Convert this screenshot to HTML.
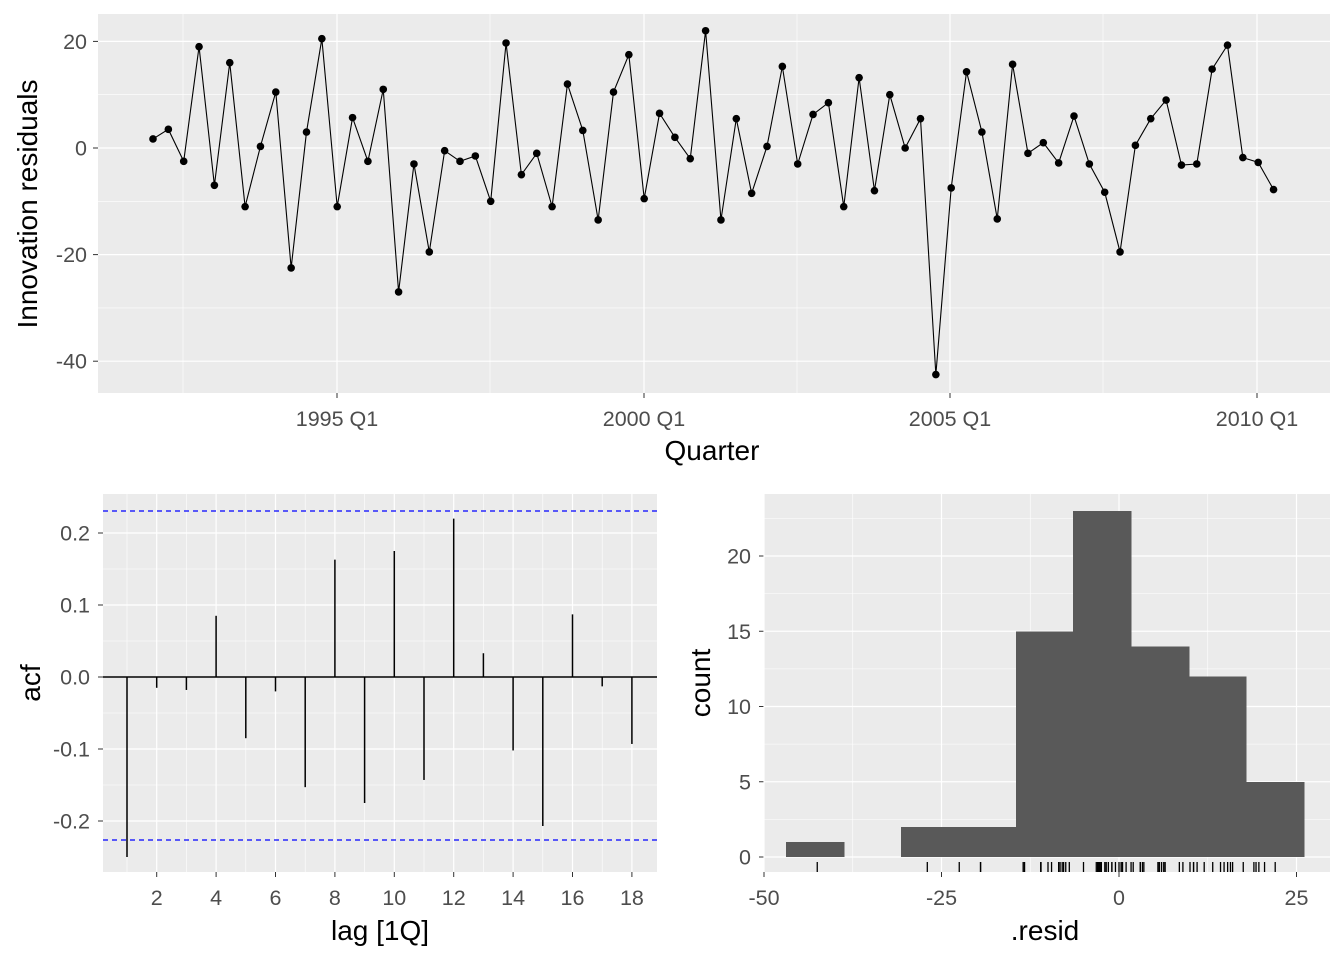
<!DOCTYPE html>
<html><head><meta charset="utf-8"><style>
body{margin:0;background:#fff}
svg{display:block;font-family:"Liberation Sans",Arial,sans-serif}
.t{font-size:21.5px;fill:#4d4d4d}
.ti{font-size:28px;fill:#000}
</style></head><body>
<svg id="s" width="1344" height="960" xmlns="http://www.w3.org/2000/svg"></svg>
<script>
const S=document.getElementById('s');let h='';
function L(x1,y1,x2,y2,c,w,extra){h+=`<line x1="${x1}" y1="${y1}" x2="${x2}" y2="${y2}" stroke="${c}" stroke-width="${w}" ${extra||''}/>`;}
function R(x,y,w,hh,c){h+=`<rect x="${x}" y="${y}" width="${w}" height="${hh}" fill="${c}" shape-rendering="crispEdges"/>`;}
function T(x,y,s,cl,a,extra){h+=`<text x="${x}" y="${y}" class="${cl}" text-anchor="${a||'middle'}" ${extra||''}>${s}</text>`;}
// top panel
const X0=98,X1=1330,Y0=14,Y1=393;
R(X0,Y0,X1-X0,Y1-Y0,'#ebebeb');
const yv=v=>148-5.33*v;
[-30,-10,10].forEach(v=>L(X0,yv(v),X1,yv(v),'#fff',0.6));
[183,490,797,1103].forEach(x=>L(x,Y0,x,Y1,'#fff',0.6));
[20,0,-20,-40].forEach(v=>{L(X0,yv(v),X1,yv(v),'#fff',1.2);L(93,yv(v),98,yv(v),'#333',1);T(87,yv(v)+7.5,v,'t','end');});
[[337,'1995 Q1'],[644,'2000 Q1'],[950,'2005 Q1'],[1257,'2010 Q1']].forEach(([x,s])=>{L(x,Y0,x,Y1,'#fff',1.2);L(x,393,x,398,'#333',1);T(x,426,s,'t');});
const vals=[1.7,3.5,-2.5,19,-7,16,-11,0.3,10.5,-22.5,3,20.5,-11,5.7,-2.5,11,-27,-3,-19.5,-0.5,-2.5,-1.5,-10,19.7,-5,-1,-11,12,3.3,-13.5,10.5,17.5,-9.5,6.5,2,-2,22,-13.5,5.5,-8.5,0.3,15.3,-3,6.3,8.5,-11,13.2,-8,10,0,5.5,-42.5,-7.5,14.3,3,-13.3,15.7,-1,1,-2.8,6,-3,-8.3,-19.5,0.5,5.5,9,-3.2,-3,14.8,19.3,-1.8,-2.7,-7.8];
const xq=i=>153+i*15.35;
h+=`<polyline fill="none" stroke="#000" stroke-width="1.1" points="${vals.map((v,i)=>xq(i)+','+yv(v)).join(' ')}"/>`;
vals.forEach((v,i)=>h+=`<circle cx="${xq(i)}" cy="${yv(v)}" r="3.8" fill="#000"/>`);
T(712,460,'Quarter','ti');
T(37,204,'Innovation residuals','ti','middle','transform="rotate(-90 37 204)"');
// ACF
const A0=103,A1=657,B0=494,B1=872;
R(A0,B0,A1-A0,B1-B0,'#ebebeb');
const ya=v=>677-720*v;const xl=l=>127+(l-1)*29.7;
[0.15,0.05,-0.05,-0.15].forEach(v=>L(A0,ya(v),A1,ya(v),'#fff',0.6));
for(let l=1;l<=17;l+=2)L(xl(l),B0,xl(l),B1,'#fff',0.6);
[0.2,0.1,0,-0.1,-0.2].forEach(v=>{L(A0,ya(v),A1,ya(v),'#fff',1.2);L(98,ya(v),103,ya(v),'#333',1);T(90,ya(v)+7.5,v==0?'0.0':v.toFixed(1),'t','end');});
for(let l=2;l<=18;l+=2){L(xl(l),B0,xl(l),B1,'#fff',1.2);L(xl(l),872,xl(l),877,'#333',1);T(xl(l),905,l,'t');}
L(A0,677,A1,677,'#000',1.5);
const acf=[-0.25,-0.015,-0.018,0.085,-0.085,-0.02,-0.153,0.163,-0.175,0.175,-0.143,0.22,0.033,-0.102,-0.207,0.087,-0.013,-0.093];
acf.forEach((v,i)=>L(xl(i+1),677,xl(i+1),ya(v),'#000',1.5));
L(A0,511,A1,511,'#0000ff',1.2,'stroke-dasharray="5,4"');L(A0,840,A1,840,'#0000ff',1.2,'stroke-dasharray="5,4"');
T(380,940,'lag [1Q]','ti');
T(40,683,'acf','ti','middle','transform="rotate(-90 40 683)"');
// histogram
const H0=764,H1=1330;
R(H0,B0,H1-H0,B1-B0,'#ebebeb');
const yc=c=>857-15.05*c;const xr=v=>1119+7.1*v;
[2.5,7.5,12.5,17.5,22.5].forEach(c=>L(H0,yc(c),H1,yc(c),'#fff',0.6));
[-37.5,-12.5,12.5].forEach(v=>L(xr(v),B0,xr(v),B1,'#fff',0.6));
[0,5,10,15,20].forEach(c=>{L(H0,yc(c),H1,yc(c),'#fff',1.2);L(759,yc(c),764,yc(c),'#333',1);T(751,yc(c)+7.5,c,'t','end');});
[-50,-25,0,25].forEach(v=>{L(xr(v),B0,xr(v),B1,'#fff',1.2);L(xr(v),872,xr(v),877,'#333',1);T(xr(v),905,v,'t');});
[[786,1],[901,2],[958,2],[1016,15],[1073,23],[1131,14],[1188,12],[1246,5]].forEach(([x,c])=>R(x,yc(c),58.5,857-yc(c),'#595959'));
vals.forEach(v=>L(xr(v),862,xr(v),872,'#000',1.3));
T(1045,940,'.resid','ti');
T(710,683,'count','ti','middle','transform="rotate(-90 710 683)"');
S.innerHTML=h;
</script>
</body></html>
